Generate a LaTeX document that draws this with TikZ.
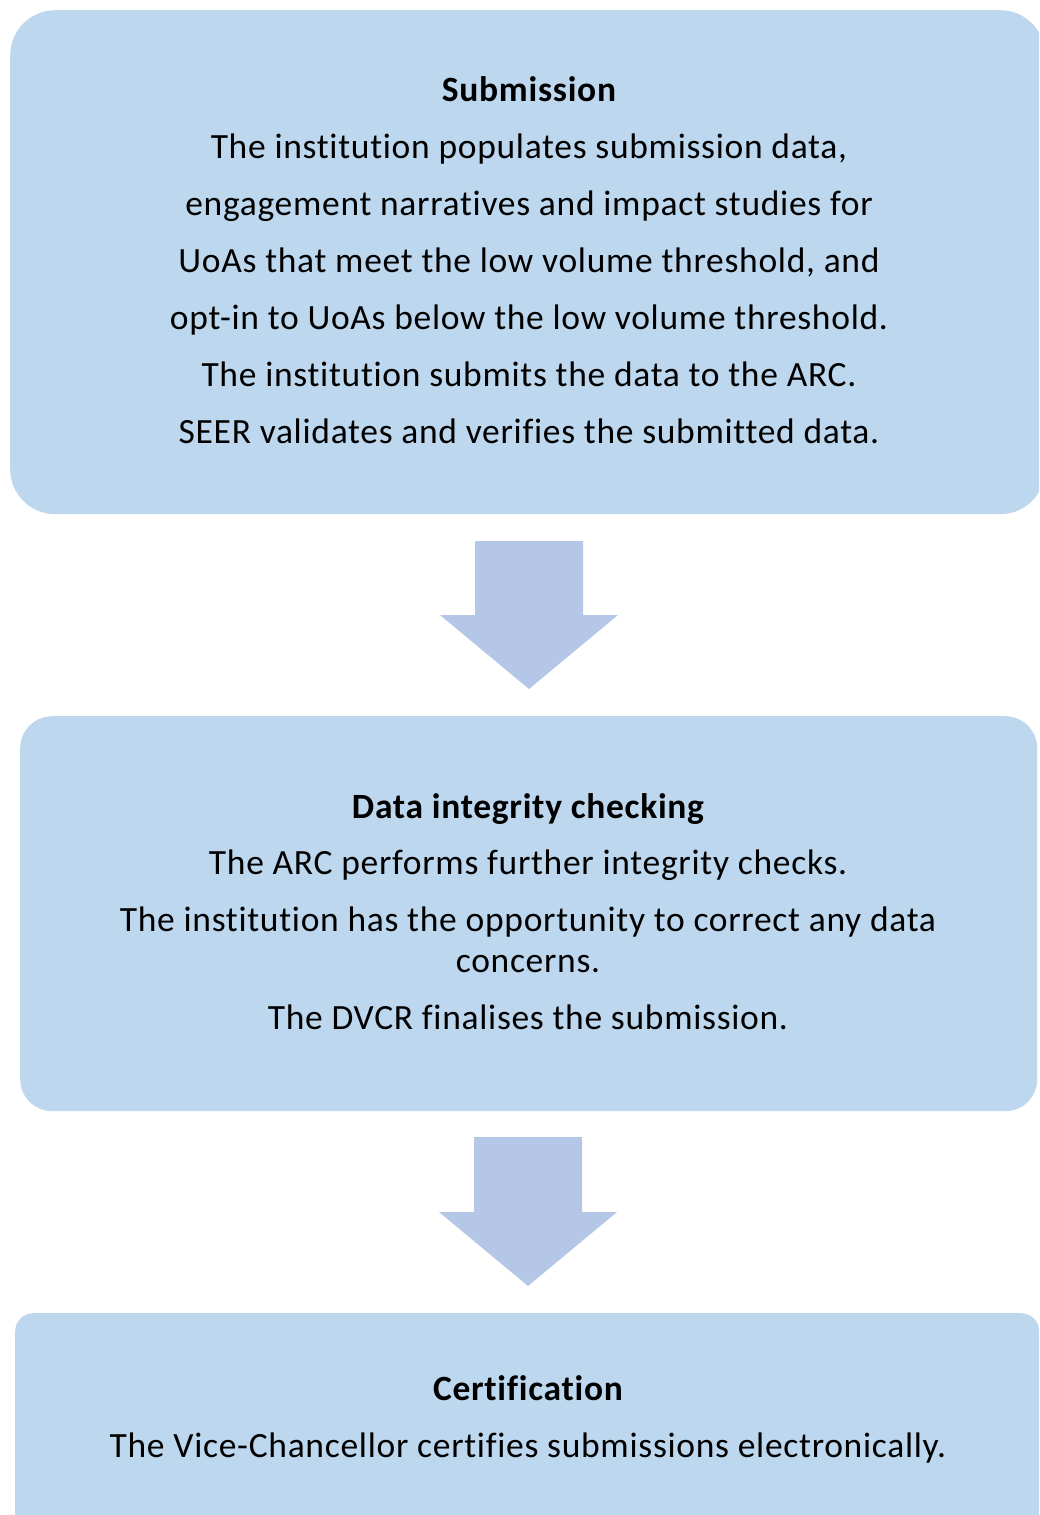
\documentclass[tikz,border=0pt]{standalone}
\usepackage{fontspec}
\setmainfont{Carlito}[RawFeature=-liga,LetterSpace=2.0]
\begin{document}
\begin{tikzpicture}[x=1pt,y=-1pt,
  box/.style={fill=boxblue,draw=none,inner sep=0pt,anchor=north west},
  blockarrow/.style={fill=arrowblue,draw=none},
  txt/.style={anchor=base,inner sep=0pt,font=\fontsize{35.5}{42}\selectfont},
  ttl/.style={txt,font=\fontsize{35.5}{42}\selectfont\bfseries}]
\definecolor{boxblue}{HTML}{BDD7EE}
\definecolor{arrowblue}{HTML}{B4C7E7}
\useasboundingbox (0,0) rectangle (1039,1515);
\clip (0,0) rectangle (1039,1515);
% boxes
\node[box,rounded corners=45pt,minimum width=1035pt,minimum height=504pt] (b1) at (10,10) {};
\node[box,rounded corners=32pt,minimum width=1017pt,minimum height=395pt] (b2) at (20,716) {};
\node[box,rounded corners=18pt,minimum width=1024pt,minimum height=230pt] (b3) at (15,1313) {};
% arrows
\coordinate (a1) at (529,541);
\coordinate (a2) at (528,1137);
\fill[blockarrow] (a1) ++(-54,0) -- ++(108,0) -- ++(0,74) -- ++(35,0) -- ++(-89,74) -- ++(-89,-74) -- ++(35,0) -- cycle;
\fill[blockarrow] (a2) ++(-54,0) -- ++(108,0) -- ++(0,75) -- ++(35,0) -- ++(-89,74) -- ++(-89,-74) -- ++(35,0) -- cycle;
% box 1 text
\node[ttl] (t1) at (529,101) {Submission};
\node[txt] (l11) at (529,158) {The institution populates submission data,};
\node[txt] (l12) at (529,215) {engagement narratives and impact studies for};
\node[txt] (l13) at (529,272) {UoAs that meet the low volume threshold, and};
\node[txt] (l14) at (529,329) {opt-in to UoAs below the low volume threshold.};
\node[txt] (l15) at (529,386) {The institution submits the data to the ARC.};
\node[txt] (l16) at (529,443) {SEER validates and verifies the submitted data.};
% box 2 text
\node[ttl] (t2) at (528,818) {Data integrity checking};
\node[txt] (l21) at (528,874) {The ARC performs further integrity checks.};
\node[txt] (l22) at (528,931) {The institution has the opportunity to correct any data};
\node[txt] (l23) at (528,972) {concerns.};
\node[txt] (l24) at (528,1029) {The DVCR finalises the submission.};
% box 3 text
\node[ttl] (t3) at (528,1400) {Certification};
\node[txt] (l31) at (528,1457) {The Vice-Chancellor certifies submissions electronically.};
\end{tikzpicture}
\end{document}
